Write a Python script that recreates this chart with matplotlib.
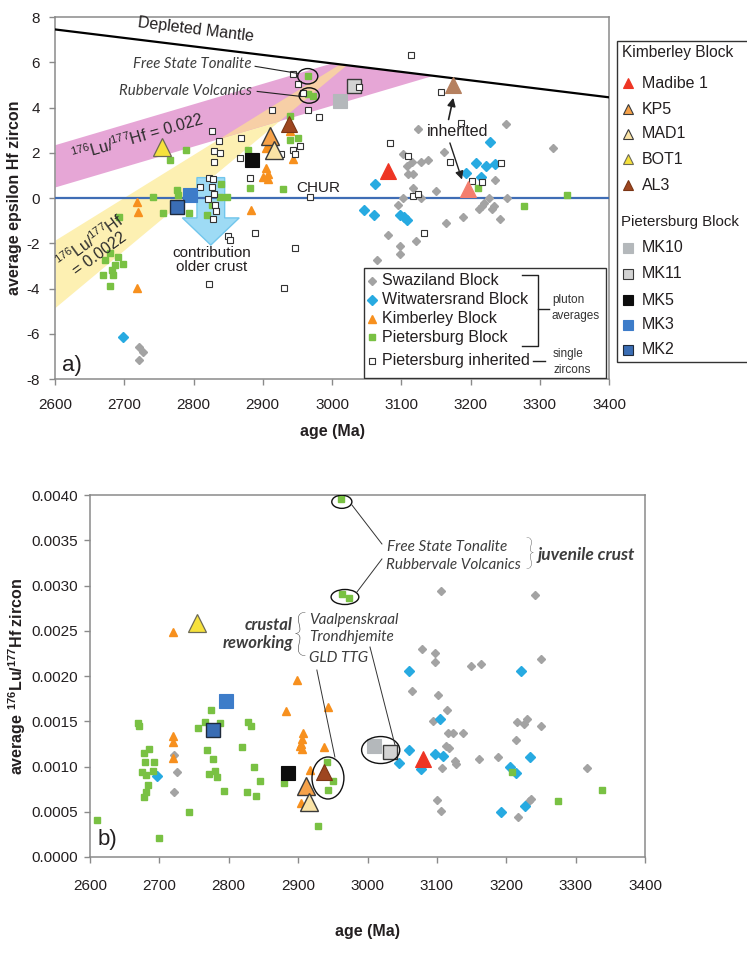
import matplotlib
matplotlib.use('Agg')
import matplotlib.pyplot as plt
from matplotlib.patches import Ellipse, Rectangle, FancyArrow
from matplotlib.lines import Line2D
from matplotlib.ticker import FormatStrFormatter, MultipleLocator
import numpy as np

plt.rcParams['font.family'] = ['Liberation Sans', 'DejaVu Sans']
plt.rcParams['mathtext.fontset'] = 'custom'
plt.rcParams['mathtext.rm'] = 'Liberation Sans'
plt.rcParams['mathtext.it'] = 'Liberation Sans:italic'
plt.rcParams['mathtext.bf'] = 'Liberation Sans:bold'
plt.rcParams['axes.unicode_minus'] = False

# ------------------------------------------------------------------ data (panel a)
swz_a_age = [3124, 3251, 3319, 3103, 3115, 3128, 3139, 3162, 3108, 3110, 3117, 3117, 3150, 3103, 3128,
             3096, 3081, 3098, 3098, 3121, 3065, 3165, 3189, 3212, 3217, 3219, 3227, 3231, 3234, 3235,
             3243, 3253, 2721, 2727, 2721]
swz_a_eps = [3.07, 3.29, 2.22, 1.96, 1.60, 1.60, 1.69, 2.04, 1.42, 1.07, 1.07, 0.44, 0.31, 0.00, 0.00,
             -0.31, -1.64, -2.13, -2.49, -1.91, -2.76, -1.11, -0.84, -0.49, -0.36, -0.22, 0.00, -0.49, -0.36, 0.80,
             -0.93, 0.00, -6.58, -6.80, -7.16]

wit_a_age = [3228, 3208, 3222, 3236, 3194, 3215, 3062, 3046, 3061, 3098, 3104, 3108, 2698]
wit_a_eps = [2.49, 1.56, 1.42, 1.51, 1.11, 0.93, 0.62, -0.53, -0.76, -0.76, -0.84, -0.98, -6.13]

kim_a_age = [2904, 2908, 2944, 2904, 2900, 2907, 2908, 2939, 2719, 2720, 2883, 2719]
kim_a_eps = [2.21, 2.31, 1.73, 1.32, 0.92, 0.84, 1.07, 2.95, -0.16, -0.61, -0.53, -3.97]

pie_a_age = [2965, 2966, 2972, 2940, 2939, 2951, 2789, 2766, 2879, 2882, 2929, 2742, 2756, 2794,
             2840, 2838, 2848, 2776, 2778, 2819, 2826, 2692, 2679, 2672, 2691, 2698, 2682, 2669,
             2684, 2679, 2686, 3211, 3277, 3339]
pie_a_eps = [5.38, 4.58, 4.50, 3.61, 2.58, 2.65, 2.10, 1.69, 2.13, 0.44, 0.40, 0.06, -0.68, -0.68,
             0.62, 0.04, 0.04, 0.36, 0.13, -0.76, -0.31, -0.84, -2.44, -2.76, -2.60, -2.90, -3.20, -3.42,
             -3.42, -3.87, -2.95, 0.44, -0.36, 0.13]

inh_a_age = [2944, 2951, 2958, 2913, 2965, 2981, 2826, 2837, 2868, 2830, 2838, 2830, 2867, 2882,
             2927, 2943, 2954, 2947, 2822, 2828, 2826, 2830, 2821, 2831, 2832, 2809, 2968, 2828,
             2850, 2853, 2889, 2947, 2822, 2931, 3114, 3157, 3186, 3084, 3110, 3170, 3244, 3202,
             3217, 3117, 3124, 3133, 3039]
inh_a_eps = [5.47, 5.02, 4.62, 3.88, 3.91, 3.60, 2.98, 2.50, 2.65, 2.06, 2.01, 1.61, 1.79, 0.87,
             1.94, 2.13, 2.31, 1.94, 0.89, 0.84, 0.49, 0.18, -0.04, -0.31, -0.58, 0.50, 0.04, -0.93,
             -1.69, -1.87, -1.56, -2.22, -3.82, -3.96, 6.31, 4.67, 3.33, 2.44, 1.87, 1.60, 1.56, 0.76,
             0.71, 0.09, 0.18, -1.56, 4.90]

# named samples (panel a): age, epsilon
madibe_a = (3081, 1.20)
madibe_inh_a = (3196, 0.40)
kp5_a = (2911, 2.76)
mad1_a = (2916, 2.10)
bot1_a = (2754, 2.25)
al3_a = (2938, 3.29)
al3_inh_a = (3175, 4.98)
mk10_a = (3011, 4.28)
mk11_a = (3032, 4.93)
mk5_a = (2885, 1.66)
mk3_a = (2795, 0.13)
mk2_a = (2776, -0.39)

# reference lines / bands (age, epsilon end points)
dm_age = [2600, 3400]
dm_eps = [7.45, 4.45]
chur_eps = 0.0
pink_low = ([2600, 3141], [0.49, 5.38])
pink_up = ([2600, 3141], [2.36, 7.25])
yel_low = ([2600, 3020], [-4.84, 5.87])
yel_up = ([2600, 3010], [-1.86, 5.91])

# ------------------------------------------------------------------ data (panel b)
swz_b_age = [3106, 3241, 3079, 3097, 3097, 3149, 3163, 3250, 3064, 3101, 3114, 3094, 3116, 3123,
             3138, 3113, 3117, 3126, 3127, 3107, 3161, 3188, 3214, 3215, 3226, 3230, 3250, 3317,
             3100, 3106, 3233, 3235, 3217, 2721, 2725, 2721]
swz_b_val = [0.00294, 0.00290, 0.00230, 0.00225, 0.00216, 0.00211, 0.00213, 0.00219, 0.00183, 0.00179,
             0.00162, 0.00150, 0.00137, 0.00137, 0.00137, 0.00123, 0.00120, 0.00106, 0.00103, 0.00098,
             0.00108, 0.00110, 0.00129, 0.00149, 0.00147, 0.00152, 0.00145, 0.00098, 0.00063, 0.00051,
             0.00062, 0.00064, 0.00044, 0.00113, 0.00094, 0.00072]

wit_b_age = [3060, 3221, 3104, 3060, 3045, 3077, 3097, 3109, 3205, 3214, 3234, 3192, 3227, 2697]
wit_b_val = [0.00206, 0.00205, 0.00152, 0.00118, 0.00104, 0.00097, 0.00114, 0.00112, 0.00100, 0.00093,
             0.00110, 0.00050, 0.00056, 0.00090]

kim_b_age = [2898, 2882, 2943, 2720, 2720, 2720, 2907, 2906, 2904, 2903, 2906, 2937, 2917, 2904, 2720]
kim_b_val = [0.00196, 0.00161, 0.00166, 0.00134, 0.00127, 0.00109, 0.00137, 0.00130, 0.00125, 0.00123,
             0.00119, 0.00122, 0.00096, 0.00060, 0.00249]

pie_b_age = [2610, 2699, 2743, 2669, 2670, 2685, 2678, 2679, 2692, 2675, 2681, 2691, 2683, 2681, 2678,
             2774, 2766, 2756, 2787, 2768, 2777, 2780, 2771, 2783, 2793, 2828, 2832, 2819, 2836, 2845,
             2826, 2839, 2880, 2941, 2950, 2943, 2928, 2962, 2963, 2973, 3208, 3274, 3338]
pie_b_val = [0.00041, 0.00021, 0.00050, 0.00148, 0.00145, 0.00119, 0.00115, 0.00105, 0.00105, 0.00094,
             0.00091, 0.00095, 0.00080, 0.00072, 0.00066, 0.00162, 0.00149, 0.00143, 0.00148, 0.00118,
             0.00108, 0.00095, 0.00092, 0.00088, 0.00073, 0.00149, 0.00145, 0.00121, 0.00099, 0.00084,
             0.00072, 0.00067, 0.00082, 0.00105, 0.00084, 0.00074, 0.00034, 0.00396, 0.00291, 0.00286,
             0.00094, 0.00062, 0.00074]

madibe_b = (3080, 0.00108)
kp5_b = (2911, 0.00079)
mad1_b = (2916, 0.00061)
bot1_b = (2754, 0.00259)
al3_b = (2937, 0.00094)
mk10_b = (3009, 0.00123)
mk11_b = (3032, 0.00116)
mk5_b = (2885, 0.00093)
mk3_b = (2796, 0.00172)
mk2_b = (2777, 0.00140)

x_ticks = [2600, 2700, 2800, 2900, 3000, 3100, 3200, 3300, 3400]

# ------------------------------------------------------------------ styles
C_GREEN = '#79c143'
C_ORANGE = '#f7901e'
C_GRAY = '#a3a3a3'
C_BLUE = '#27aae1'
C_TXT = '#231f20'
C_ANN = '#3d3d3d'

small = {
    'swz': dict(marker='D', ms=4.1, color=C_GRAY, mec=C_GRAY, ls='none'),
    'wit': dict(marker='D', ms=4.6, color=C_BLUE, mec=C_BLUE, ls='none'),
    'kim': dict(marker='^', ms=5.8, color=C_ORANGE, mec=C_ORANGE, ls='none'),
    'pie': dict(marker='s', ms=5.0, color=C_GREEN, mec=C_GREEN, ls='none'),
    'inh': dict(marker='s', ms=4.8, mfc='white', mec='#333333', mew=0.8, ls='none'),
}
big = {
    'madibe': dict(marker='^', ms=11.5, mfc='#ee3524', mec='#ee3524', mew=0.8),
    'madibe_inh': dict(marker='^', ms=11.5, mfc='#f47e6e', mec='#f47e6e', mew=0.8),
    'kp5': dict(marker='^', ms=12.5, mfc='#f6a24a', mec='#3a3a3a', mew=1.0),
    'mad1': dict(marker='^', ms=12.5, mfc='#fae3a6', mec='#3a3a3a', mew=1.0),
    'bot1': dict(marker='^', ms=12.5, mfc='#f6e13c', mec='#6d6a55', mew=0.9),
    'al3': dict(marker='^', ms=11.5, mfc='#9e4620', mec='#7a3515', mew=0.8),
    'al3_inh': dict(marker='^', ms=11.5, mfc='#b5805f', mec='#b5805f', mew=0.8),
    'mk10': dict(marker='s', ms=10, mfc='#b4b8bb', mec='#b4b8bb', mew=0.8),
    'mk11': dict(marker='s', ms=9.5, mfc='#d3d3d3', mec='#3a3a3a', mew=1.0),
    'mk5': dict(marker='s', ms=10, mfc='#0d0d0d', mec='#0d0d0d', mew=0.8),
    'mk3': dict(marker='s', ms=10, mfc='#3d7cc9', mec='#3d7cc9', mew=0.8),
    'mk2': dict(marker='s', ms=10, mfc='#3a6db4', mec='#1f2a3a', mew=1.0),
}

W, H = 747, 959
fig = plt.figure(figsize=(W / 100, H / 100), dpi=100)
ax1 = fig.add_axes([55 / W, 1 - 379 / H, 554 / W, 362 / H])
ax2 = fig.add_axes([90 / W, 1 - 857 / H, 555 / W, 362 / H])


def style_axes(ax):
    for s in ax.spines.values():
        s.set_color('#8a8a8a')
        s.set_linewidth(1.1)
    ax.tick_params(direction='out', length=4, width=1, color='#8a8a8a', labelsize=11,
                   labelcolor=C_TXT, top=False, right=False)
    ax.tick_params(axis='x', pad=10)
    ax.tick_params(axis='y', pad=7)


# ------------------------------------------------------------------ panel a
ax = ax1
ax.set_xlim(2600, 3400)
ax.set_ylim(-8, 8)
ax.set_xticks(x_ticks)
ax.yaxis.set_major_locator(MultipleLocator(2))
style_axes(ax)


def line(pts, x):
    (x0, x1), (y0, y1) = pts
    return y0 + (y1 - y0) / (x1 - x0) * (np.asarray(x) - x0)


xg = np.linspace(2600, 3400, 1601)
dm = line((dm_age, dm_eps), xg)
pl, pu = line(pink_low, xg), np.minimum(line(pink_up, xg), dm)
yl, yu = line(yel_low, xg), np.minimum(line(yel_up, xg), dm)
ol, ou = np.maximum(pl, yl), np.minimum(pu, yu)
ax.fill_between(xg, yl, yu, where=yu > yl, color='#fdf0b2', lw=0, zorder=1)
ax.fill_between(xg, pl, pu, where=pu > pl, color='#e6a6d6', lw=0, zorder=1)
ax.fill_between(xg, ol, ou, where=ou > ol, color='#f7cfa6', lw=0, zorder=1)

ax.plot(dm_age, dm_eps, color='black', lw=1.6, zorder=3)
ax.axhline(chur_eps, color='#3f6db5', lw=1.6, zorder=3)

ax.add_patch(FancyArrow(2825, 0.9, 0, -2.98, width=40, head_width=82, head_length=1.2,
                        length_includes_head=True, fc='#9edbf5', ec='#72c6ec', lw=1, zorder=2))

ax.plot(swz_a_age, swz_a_eps, zorder=4, **small['swz'])
ax.plot(wit_a_age, wit_a_eps, zorder=4, **small['wit'])
ax.plot(kim_a_age, kim_a_eps, zorder=4, **small['kim'])
ax.plot(pie_a_age, pie_a_eps, zorder=4, **small['pie'])
ax.plot(inh_a_age, inh_a_eps, zorder=5, **small['inh'])

for key, pt in [('madibe', madibe_a), ('madibe_inh', madibe_inh_a), ('kp5', kp5_a), ('mad1', mad1_a),
                ('bot1', bot1_a), ('al3', al3_a), ('al3_inh', al3_inh_a), ('mk10', mk10_a),
                ('mk11', mk11_a), ('mk5', mk5_a), ('mk3', mk3_a), ('mk2', mk2_a)]:
    ax.plot([pt[0]], [pt[1]], ls='none', zorder=6, **big[key])
ax.plot([3039], [4.90], zorder=7, **small['inh'])

# annotations panel a
ax.text(2804, 7.42, 'Depleted Mantle', rotation=-7, fontsize=11.5, color=C_TXT,
        ha='center', va='center', zorder=8)
ax.text(2949, 0.46, 'CHUR', fontsize=11, color=C_TXT, ha='left', va='center', zorder=8)
ax.text(2718, 2.67, r'$^{176}$Lu/$^{177}$Hf = 0.022', rotation=16, fontsize=11.5,
        color='#2b2b2b', ha='center', va='center', zorder=8)
ax.text(2657, -2.15, '$^{176}$Lu/$^{177}$Hf\n= 0.0022', rotation=36, fontsize=11.5,
        color='#2b2b2b', ha='center', va='center', multialignment='center', linespacing=1.0, zorder=8)
ax.text(2826, -2.75, 'contribution\nolder crust', fontsize=11, color=C_TXT, ha='center',
        va='center', linespacing=0.95, zorder=8)
ax.text(3182, 2.93, 'inherited', fontsize=11.5, color=C_TXT, ha='center', va='center', zorder=8)
ax.annotate('', xy=(3176, 4.55), xytext=(3167.5, 3.35),
            arrowprops=dict(arrowstyle='-|>', color='#222222', lw=1.2, mutation_scale=12), zorder=8)
ax.annotate('', xy=(3189, 0.70), xytext=(3169, 2.55),
            arrowprops=dict(arrowstyle='-|>', color='#222222', lw=1.0, mutation_scale=12), zorder=8)

ifont = dict(family=['Lato', 'DejaVu Sans'], style='italic', color=C_ANN)
ax.text(2884, 5.91, 'Free State Tonalite', fontsize=10.8, ha='right', va='center', zorder=8, **ifont)
ax.text(2884, 4.71, 'Rubbervale Volcanics', fontsize=10.8, ha='right', va='center', zorder=8, **ifont)
ax.plot([2889, 2950], [5.82, 5.51], color='#222222', lw=0.8, zorder=8)
ax.plot([2892, 2955], [4.71, 4.49], color='#222222', lw=0.8, zorder=8)
for c in [(2965, 5.38), (2967, 4.53)]:
    ax.add_patch(Ellipse(c, 29, 0.68, fill=False, ec='#111111', lw=1.0, zorder=8))

ax.text(0.031, 0.038, 'a)', transform=ax.transAxes, fontsize=16, color=C_TXT,
        ha='center', va='center', zorder=8)

# legend panel a (manual, with bracket)
ax.add_patch(Rectangle((0.558, 0.004), 0.4366, 0.302, transform=ax.transAxes, fc='white',
                       ec='#333333', lw=1.0, zorder=9))
leg_rows = [('swz', 'Swaziland Block', 0.272), ('wit', 'Witwatersrand Block', 0.219),
            ('kim', 'Kimberley Block', 0.167), ('pie', 'Pietersburg Block', 0.116),
            ('inh', 'Pietersburg inherited', 0.050)]
for key, lab, yy in leg_rows:
    st = dict(small[key])
    ax.add_line(Line2D([0.572], [yy], transform=ax.transAxes, zorder=10, clip_on=False, **st))
    ax.text(0.590, yy, lab, transform=ax.transAxes, fontsize=11.5, color=C_TXT,
            ha='left', va='center', zorder=10)
bk = dict(transform=ax.transAxes, color='#222222', lw=1.0, zorder=10, clip_on=False)
ax.add_line(Line2D([0.843, 0.872, 0.872, 0.843], [0.286, 0.286, 0.092, 0.092], **bk))
ax.add_line(Line2D([0.872, 0.892], [0.194, 0.194], **bk))
ax.add_line(Line2D([0.863, 0.884], [0.050, 0.050], **bk))
ax.text(0.897, 0.197, 'pluton\naverages', transform=ax.transAxes, fontsize=8.5, color='#333333',
        ha='left', va='center', linespacing=1.45, zorder=10)
ax.text(0.899, 0.047, 'single\nzircons', transform=ax.transAxes, fontsize=8.5, color='#333333',
        ha='left', va='center', linespacing=1.45, zorder=10)

ax.set_xlabel('age (Ma)', fontsize=11.5, fontweight='bold', color=C_TXT, labelpad=8)
ax.set_ylabel('average epsilon Hf zircon', fontsize=11.5, fontweight='bold', color=C_TXT)
ax.yaxis.set_label_coords(-0.060, 0.5)

# right-hand legend (figure coords)
fig.add_artist(Rectangle((617 / W, 1 - 362 / H), 0.25, 321 / H, transform=fig.transFigure,
                         fc='white', ec='#333333', lw=1.0, zorder=1))
fig.text(622 / W, 1 - 53 / H, 'Kimberley Block', fontsize=11.2, color=C_TXT, va='center', ha='left')
fig.text(621 / W, 1 - 222 / H, 'Pietersburg Block', fontsize=10.8, color=C_TXT, va='center', ha='left')
rl_rows = [('madibe', 'Madibe 1', 83), ('kp5', 'KP5', 109), ('mad1', 'MAD1', 134), ('bot1', 'BOT1', 159),
           ('al3', 'AL3', 185), ('mk10', 'MK10', 248), ('mk11', 'MK11', 274), ('mk5', 'MK5', 300),
           ('mk3', 'MK3', 325), ('mk2', 'MK2', 350)]
for key, lab, py in rl_rows:
    st = dict(big[key])
    st['ms'] = 7 if st['marker'] == '^' else 6.5
    st['mew'] = min(st['mew'], 0.8)
    fig.add_artist(Line2D([628 / W], [1 - py / H], transform=fig.transFigure, ls='none', **st))
    fig.text(642 / W, 1 - py / H, lab, fontsize=11.5, color=C_TXT, va='center', ha='left')

# ------------------------------------------------------------------ panel b
ax = ax2
ax.set_xlim(2600, 3400)
ax.set_ylim(0, 0.004)
ax.set_xticks(x_ticks)
ax.yaxis.set_major_locator(MultipleLocator(0.0005))
ax.yaxis.set_major_formatter(FormatStrFormatter('%.4f'))
style_axes(ax)
ax.tick_params(axis='x', pad=12)
ax.tick_params(axis='y', pad=5)

ax.plot(swz_b_age, swz_b_val, zorder=4, **small['swz'])
ax.plot(wit_b_age, wit_b_val, zorder=4, **small['wit'])
ax.plot(kim_b_age, kim_b_val, zorder=4, **small['kim'])
ax.plot(pie_b_age, pie_b_val, zorder=4, **small['pie'])
for key, pt in [('madibe', madibe_b), ('kp5', kp5_b), ('mad1', mad1_b), ('bot1', bot1_b), ('al3', al3_b),
                ('mk10', mk10_b), ('mk11', mk11_b), ('mk5', mk5_b), ('mk3', mk3_b), ('mk2', mk2_b)]:
    ax.plot([pt[0]], [pt[1]], ls='none', zorder=6, **big[key])

for c, w, h in [((2963, 0.003925), 29, 0.000145), ((2967.5, 0.002873), 40, 0.000166),
                ((2943, 0.000873), 46, 0.000464), ((3019, 0.001182), 55, 0.000298)]:
    ax.add_patch(Ellipse(c, w, h, fill=False, ec='#111111', lw=1.0, zorder=7))
lk = dict(color='#333333', lw=0.7, zorder=7)
ax.plot([2977.5, 3020.8], [0.00389, 0.003459], **lk)
ax.plot([2984.8, 3020.8], [0.002928, 0.003293], **lk)
ax.plot([2927, 2953], [0.002066, 0.001105], **lk)
ax.plot([3003.6, 3039.6], [0.00232, 0.001238], **lk)

ax.text(3028, 0.003425, 'Free State Tonalite', fontsize=11, ha='left', va='center', zorder=8, **ifont)
ax.text(3026.6, 0.003226, 'Rubbervale Volcanics', fontsize=11, ha='left', va='center', zorder=8, **ifont)
ax.text(3234, 0.00334, '}', fontsize=25, ha='center', va='center', color=C_ANN,
        family=['Lato', 'DejaVu Sans'], fontweight='light', zorder=8)
ax.text(3245, 0.003337, 'juvenile crust', fontsize=12.5, ha='left', va='center', fontweight='bold',
        zorder=8, **ifont)
ax.text(2892.5, 0.002563, 'crustal', fontsize=12, ha='right', va='center', fontweight='bold',
        zorder=8, **ifont)
ax.text(2892.5, 0.002364, 'reworking', fontsize=12, ha='right', va='center', fontweight='bold',
        zorder=8, **ifont)
ax.text(2902.5, 0.00243, '{', fontsize=36, ha='center', va='center', color=C_ANN,
        family=['Lato', 'DejaVu Sans'], fontweight='light', zorder=8)
ax.text(2915.6, 0.002619, 'Vaalpenskraal', fontsize=11, ha='left', va='center', zorder=8, **ifont)
ax.text(2915.6, 0.00243, 'Trondhjemite', fontsize=11, ha='left', va='center', zorder=8, **ifont)
ax.text(2915.6, 0.002199, 'GLD TTG', fontsize=11, ha='left', va='center', zorder=8, **ifont)

ax.text(0.031, 0.047, 'b)', transform=ax.transAxes, fontsize=16, color=C_TXT,
        ha='center', va='center', zorder=8)

ax.set_xlabel('age (Ma)', fontsize=11.5, fontweight='bold', color=C_TXT, labelpad=22)
ax.set_ylabel(r'average $^{\mathbf{176}}$Lu/$^{\mathbf{177}}$Hf zircon', fontsize=11.5,
              fontweight='bold', color=C_TXT)
ax.yaxis.set_label_coords(-0.112, 0.5)

fig.savefig('out.png', dpi=100)
